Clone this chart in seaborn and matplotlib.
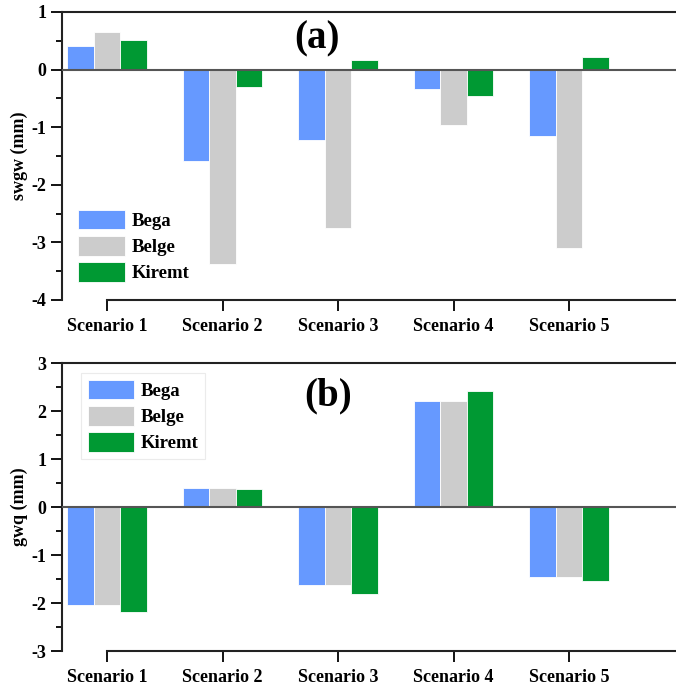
import pandas as pd
import matplotlib.pyplot as plt
from matplotlib.ticker import MultipleLocator
import seaborn as sns

# =============================
#  Data
# =============================
scenarios = ["Scenario 1", "Scenario 2", "Scenario 3", "Scenario 4", "Scenario 5"]
seasons = ["Bega", "Belge", "Kiremt"]

swgw_bega = [0.41, -1.58, -1.22, -0.33, -1.15]
swgw_belge = [0.65, -3.37, -2.75, -0.97, -3.10]
swgw_kiremt = [0.52, -0.31, 0.17, -0.46, 0.22]

gwq_bega = [-2.04, 0.40, -1.63, 2.20, -1.46]
gwq_belge = [-2.04, 0.40, -1.63, 2.20, -1.46]
gwq_kiremt = [-2.19, 0.37, -1.81, 2.42, -1.54]

colors = ["#6699ff", "#cccccc", "#009933"]


def long_table(values):
    rows = []
    for season, vals in zip(seasons, values):
        for sc, v in zip(scenarios, vals):
            rows.append({"scenario": sc, "season": season, "value": v})
    return pd.DataFrame(rows)


df_a = long_table([swgw_bega, swgw_belge, swgw_kiremt])
df_b = long_table([gwq_bega, gwq_belge, gwq_kiremt])

# =============================
#  Figure
# =============================
sns.set_style("ticks")
plt.rcParams["font.family"] = ["Liberation Serif", "DejaVu Serif"]
plt.rcParams["font.weight"] = "bold"
plt.rcParams["axes.unicode_minus"] = False
plt.rcParams["text.color"] = "black"
plt.rcParams["xtick.color"] = "black"
plt.rcParams["ytick.color"] = "black"
plt.rcParams["axes.labelcolor"] = "black"

fig = plt.figure(figsize=(6.76, 6.88), dpi=100)
ax_a = fig.add_axes([62 / 676, 1 - 300 / 688, 1 - 62 / 676, 288 / 688])
ax_b = fig.add_axes([62 / 676, 1 - 651 / 688, 1 - 62 / 676, 288 / 688])

panels = [
    (ax_a, df_a, "swgw (mm)", (-4, 1), "(a)", (0.415, 0.905), (0.016, 0.337), False),
    (ax_b, df_b, "gwq (mm)", (-3, 3), "(b)", (0.433, 0.885), (0.031, 0.965), True),
]

for ax, df, ylabel, ylim, tag, tagpos, legpos, framed in panels:
    sns.barplot(data=df, x="scenario", y="value", hue="season", hue_order=seasons,
                palette=colors, width=0.69, saturation=1, errorbar=None,
                edgecolor="white", linewidth=0.6, ax=ax)
    ax.axhline(0, color="#555555", lw=1.5, zorder=3)
    ax.set_ylim(*ylim)
    ax.set_xlim(-0.39, 4.926)
    ax.yaxis.set_major_locator(MultipleLocator(1))
    ax.yaxis.set_minor_locator(MultipleLocator(0.5))
    ax.tick_params(axis="y", which="major", length=8, width=1.3, labelsize=13, pad=3)
    ax.tick_params(axis="y", which="minor", length=4, width=1.3)
    ax.tick_params(axis="x", which="major", length=8, width=1.3, labelsize=13, pad=5)
    for lab in ax.get_xticklabels() + ax.get_yticklabels():
        lab.set_fontweight("bold")
    ax.spines["right"].set_visible(False)
    for s in ["left", "bottom", "top"]:
        ax.spines[s].set_linewidth(1.5)
        ax.spines[s].set_color("#222222")
    ax.spines["bottom"].set_bounds(0, 4.926)
    ax.set_xlabel("")
    ax.set_ylabel(ylabel, fontsize=13, fontweight="bold", labelpad=3)
    ax.text(tagpos[0], tagpos[1], tag, transform=ax.transAxes, fontsize=28,
            fontweight="bold", ha="center", va="center")
    handles, labels = ax.get_legend_handles_labels()
    ax.get_legend().remove()
    leg = ax.legend(handles, labels, loc="upper left", bbox_to_anchor=legpos,
                    frameon=framed, fancybox=False, fontsize=13.5, handlelength=2.5,
                    handleheight=1.25, labelspacing=0.32, handletextpad=0.35,
                    borderpad=0.35, borderaxespad=0)
    if framed:
        leg.get_frame().set_edgecolor("#e6e6e6")
        leg.get_frame().set_linewidth(0.8)

fig.savefig("out.png", dpi=100)
plt.close(fig)
